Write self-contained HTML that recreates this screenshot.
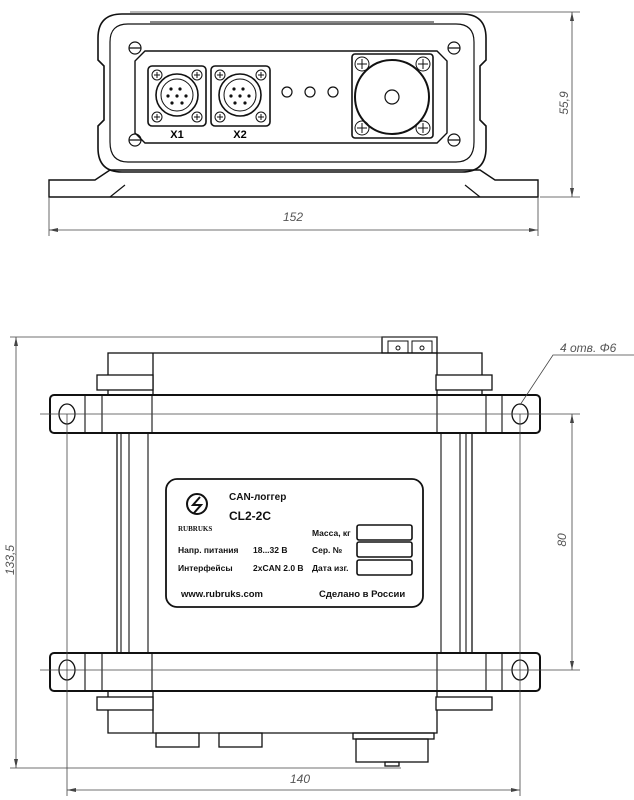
<!DOCTYPE html>
<html><head><meta charset="utf-8"><style>html,body{margin:0;padding:0;background:#fff}svg{display:block}</style></head>
<body>
<svg width="634" height="800" viewBox="0 0 634 800" xmlns="http://www.w3.org/2000/svg" font-family="Liberation Sans, DejaVu Sans, sans-serif">
<g fill="none" stroke="#111" stroke-width="1.6">
<!-- TOP VIEW -->
<path d="M49 197 L49 180 L95 180 L110 170 L480 170 L495 180 L538 180 L538 197 Z" stroke-width="1.4"/>
<path d="M110 197 L125 185 M480 197 L465 185" stroke-width="1.2"/>
<path d="M122 14 L462 14 Q486 14 486 38 L486 60 L480 66 L480 120 L486 126 L486 148 Q486 172 462 172 L122 172 Q98 172 98 148 L98 126 L104 120 L104 66 L98 60 L98 38 Q98 14 122 14 Z"/>
<path d="M128 24 L456 24 Q474 24 474 42 L474 142 Q474 162 456 162 L128 162 Q110 162 110 142 L110 42 Q110 24 128 24 Z" stroke-width="1.2"/>
<line x1="150" y1="22" x2="434" y2="22" stroke-width="1"/>
<path d="M145 51 L437 51 L447 61 L447 133 L437 143 L145 143 L135 133 L135 61 Z" stroke-width="1.4"/>
<rect x="148" y="66" width="58" height="60" rx="4"/>
<rect x="211" y="66" width="59" height="60" rx="4"/>
<circle cx="177" cy="95" r="21"/><circle cx="177" cy="95" r="16" stroke-width="1"/>
<circle cx="240" cy="95" r="21"/><circle cx="240" cy="95" r="16" stroke-width="1"/>
<circle cx="287" cy="92" r="5" stroke-width="1.2"/><circle cx="310" cy="92" r="5" stroke-width="1.2"/><circle cx="333" cy="92" r="5" stroke-width="1.2"/>
<rect x="352" y="54" width="81" height="84" rx="3"/>
<circle cx="392" cy="97" r="37" stroke-width="2"/>
<circle cx="392" cy="97" r="7" stroke-width="1.2"/>
<g stroke-width="1.2">
<circle cx="135" cy="48" r="6"/><circle cx="454" cy="48" r="6"/><circle cx="135" cy="140" r="6"/><circle cx="454" cy="140" r="6"/>
<path d="M129 48h12M448 48h12M129 140h12M448 140h12"/>
</g>
<g stroke-width="1">
<circle cx="157" cy="75" r="5"/><circle cx="197" cy="75" r="5"/><circle cx="157" cy="117" r="5"/><circle cx="197" cy="117" r="5"/>
<circle cx="220" cy="75" r="5"/><circle cx="261" cy="75" r="5"/><circle cx="220" cy="117" r="5"/><circle cx="261" cy="117" r="5"/>
<circle cx="362" cy="64" r="7"/><circle cx="423" cy="64" r="7"/><circle cx="362" cy="128" r="7"/><circle cx="423" cy="128" r="7"/>
<path d="M154 75h6M157 72v6M194 75h6M197 72v6M154 117h6M157 114v6M194 117h6M197 114v6M217 75h6M220 72v6M258 75h6M261 72v6M217 117h6M220 114v6M258 117h6M261 114v6M357 64h10M362 59v10M418 64h10M423 59v10M357 128h10M362 123v10M418 128h10M423 123v10"/>
</g>
<g fill="#111" stroke="none">
<circle cx="171" cy="89" r="1.6"/><circle cx="180" cy="89" r="1.6"/><circle cx="168" cy="96" r="1.6"/><circle cx="177" cy="96" r="1.6"/><circle cx="186" cy="96" r="1.6"/><circle cx="172" cy="103" r="1.6"/><circle cx="182" cy="103" r="1.6"/>
<circle cx="234" cy="89" r="1.6"/><circle cx="243" cy="89" r="1.6"/><circle cx="231" cy="96" r="1.6"/><circle cx="240" cy="96" r="1.6"/><circle cx="249" cy="96" r="1.6"/><circle cx="235" cy="103" r="1.6"/><circle cx="245" cy="103" r="1.6"/>
</g>
</g>
<text x="177" y="138" font-size="11" font-weight="bold" text-anchor="middle">X1</text>
<text x="240" y="138" font-size="11" font-weight="bold" text-anchor="middle">X2</text>
<!-- top dims -->
<g stroke="#444" stroke-width="0.8" fill="none">
<path d="M130 12H580M540 197H580M572 12V197M49 197V236M538 197V236M49 230H538"/>
</g>
<g fill="#444"><path d="M572 12l-2 9h4z M572 197l-2 -9h4z M49 230l9 -2v4z M538 230l-9 -2v4z"/></g>
<text x="293" y="221" font-size="12" font-style="italic" fill="#555" text-anchor="middle">152</text>
<text x="0" y="0" font-size="12" font-style="italic" fill="#555" text-anchor="middle" transform="translate(568,103) rotate(-90)">55,9</text>

<!-- BOTTOM VIEW -->
<g fill="none" stroke="#111" stroke-width="1.3">
<rect x="382" y="337" width="55" height="16"/>
<rect x="388" y="341" width="20" height="12" stroke-width="1"/><rect x="412" y="341" width="20" height="12" stroke-width="1"/>
<circle cx="398" cy="348" r="2" stroke-width="1"/><circle cx="422" cy="348" r="2" stroke-width="1"/>
<rect x="108" y="353" width="374" height="42"/>
<line x1="153" y1="353" x2="153" y2="395"/><line x1="437" y1="353" x2="437" y2="395"/>
<rect x="97" y="375" width="56" height="15" fill="#fff"/><rect x="436" y="375" width="56" height="15" fill="#fff"/>
<rect x="117" y="433" width="355" height="220"/>
<path d="M121 433V653M129 433V653M148 433V653M441 433V653M460 433V653M466 433V653" stroke-width="1.1"/>
<rect x="50" y="395" width="490" height="38" rx="4" stroke-width="2"/>
<rect x="50" y="653" width="490" height="38" rx="4" stroke-width="2"/>
<path d="M85 395V433M102 395V433M152 395V433M437 395V433M486 395V433M502 395V433M85 653V691M102 653V691M152 653V691M437 653V691M486 653V691M502 653V691" stroke-width="1.1"/>
<ellipse cx="67" cy="414" rx="8" ry="10"/><ellipse cx="520" cy="414" rx="8" ry="10"/>
<ellipse cx="67" cy="670" rx="8" ry="10"/><ellipse cx="520" cy="670" rx="8" ry="10"/>
<path d="M108 691V733H437V691M153 691V733M437 691V733"/>
<rect x="97" y="697" width="56" height="13" fill="#fff"/><rect x="436" y="697" width="56" height="13" fill="#fff"/>
<rect x="156" y="733" width="43" height="14"/><rect x="219" y="733" width="43" height="14"/>
<rect x="353" y="733" width="81" height="6"/>
<rect x="356" y="739" width="72" height="23"/>
<rect x="385" y="762" width="14" height="4"/>
</g>
<!-- bottom dims -->
<g stroke="#444" stroke-width="0.8" fill="none">
<path d="M10 337H437M10 768H401M16 337V768M67 414V796M520 414V796M67 790H520M40 414H580M520 670H580M40 670H580M572 414V670M520 405L553 355H634"/>
</g>
<g fill="#444"><path d="M16 337l-2 9h4z M16 768l-2 -9h4z M572 414l-2 9h4z M572 670l-2 -9h4z M67 790l9 -2v4z M520 790l-9 -2v4z"/></g>
<text x="300" y="783" font-size="12" font-style="italic" fill="#555" text-anchor="middle">140</text>
<text x="0" y="0" font-size="12" font-style="italic" fill="#555" text-anchor="middle" transform="translate(14,560) rotate(-90)">133,5</text>
<text x="0" y="0" font-size="12" font-style="italic" fill="#555" text-anchor="middle" transform="translate(566,540) rotate(-90)">80</text>
<text x="560" y="352" font-size="12" font-style="italic" fill="#555">4 отв. Φ6</text>

<!-- LABEL -->
<rect x="166" y="479" width="257" height="128" rx="11" fill="#fff" stroke="#111" stroke-width="1.8"/>
<g fill="none" stroke="#111" stroke-width="2">
<circle cx="197" cy="504" r="10"/>
<path d="M200 497L193 505h8l-7 8"/>
</g>
<g font-size="8.5" font-weight="bold" fill="#111">
<text x="229" y="500" font-size="10">CAN-логгер</text>
<text x="229" y="520" font-size="12">CL2-2C</text>
<text x="178" y="531" font-size="7" font-family="Liberation Serif, serif">RUBRUKS</text>
<text x="312" y="536">Масса, кг</text>
<text x="178" y="553">Напр. питания</text><text x="253" y="553">18...32 В</text><text x="312" y="553">Сер. №</text>
<text x="178" y="571">Интерфейсы</text><text x="253" y="571">2xCAN 2.0 В</text><text x="312" y="571">Дата изг.</text>
<text x="181" y="597" font-size="9.5">www.rubruks.com</text>
<text x="319" y="597" font-size="9.5">Сделано в России</text>
</g>
<g fill="none" stroke="#111" stroke-width="1.6">
<rect x="357" y="525" width="55" height="15" rx="2"/>
<rect x="357" y="542" width="55" height="15" rx="2"/>
<rect x="357" y="560" width="55" height="15" rx="2"/>
</g>
</svg>
</body></html>
